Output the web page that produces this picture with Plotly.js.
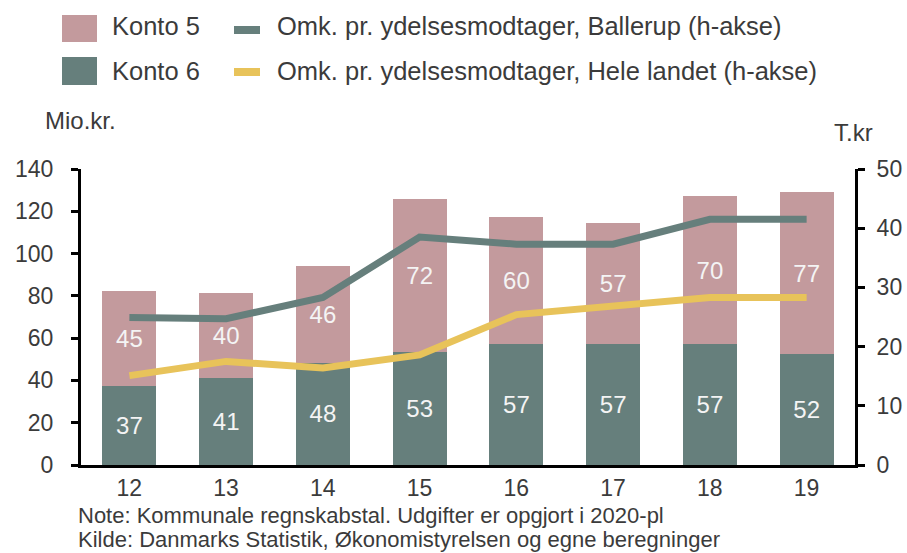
<!DOCTYPE html>
<html>
<head>
<meta charset="utf-8">
<script src="https://cdn.plot.ly/plotly-3.0.1.min.js"></script>
<style>html,body{margin:0;padding:0;background:#fff;}#chart{width:907px;height:553px;}</style>
</head>
<body>
<div id="chart"></div>
<script>
// ---- data ----
var years = ['12','13','14','15','16','17','18','19'];
var konto5 = [44.8, 40.2, 45.9, 72.4, 60.3, 57.0, 70.4, 76.8];
var konto6 = [37.4, 41.2, 48.4, 53.4, 57.0, 57.3, 57.0, 52.4];
var ballerup = [24.9, 24.7, 28.3, 38.5, 37.3, 37.3, 41.5, 41.5];
var heleLandet = [15.1, 17.5, 16.4, 18.6, 25.4, 26.8, 28.3, 28.3];
var seriesNames = ['Konto 5', 'Konto 6',
  'Omk. pr. ydelsesmodtager, Ballerup (h-akse)',
  'Omk. pr. ydelsesmodtager, Hele landet (h-akse)'];
var leftTicks = [0, 20, 40, 60, 80, 100, 120, 140];
var rightTicks = [0, 10, 20, 30, 40, 50];
var noteLines = ['Note: Kommunale regnskabstal. Udgifter er opgjort i 2020-pl',
  'Kilde: Danmarks Statistik, Økonomistyrelsen og egne beregninger'];

var totals = konto5.map(function (v, i) { return v + konto6[i]; });

// ---- style ----
var FONT = 'Liberation Sans, Arial, sans-serif';
var TXT = '#3b3b3b';
var C5 = '#c39a9d', C6 = '#667f7c', CY = '#e8c35a';
var W = 907, H = 553, ML = 81, MR = 52, MT = 169, MB = 88;
var PW = W - ML - MR, PH = H - MT - MB;
function px(x) { return (x - ML) / PW; }
function py(y) { return (H - MB - y) / PH; }

var traces = [
  { type: 'bar', x: years, y: konto6, name: seriesNames[1], marker: { color: C6 },
    texttemplate: '%{y:.0f}', textposition: 'inside', insidetextanchor: 'middle',
    textangle: 0, textfont: { family: FONT, size: 24, color: '#f4f4f4' }, showlegend: false, hoverinfo: 'skip' },
  { type: 'bar', x: years, y: konto5, name: seriesNames[0], marker: { color: C5 },
    texttemplate: '%{y:.0f}', textposition: 'inside', insidetextanchor: 'middle',
    textangle: 0, textfont: { family: FONT, size: 24, color: '#f4f4f4' }, showlegend: false, hoverinfo: 'skip' },
  { type: 'scatter', mode: 'lines', x: years, y: ballerup, yaxis: 'y2', name: seriesNames[2],
    line: { color: C6, width: 7 }, showlegend: false, hoverinfo: 'skip' },
  { type: 'scatter', mode: 'lines', x: years, y: heleLandet, yaxis: 'y2', name: seriesNames[3],
    line: { color: CY, width: 7 }, showlegend: false, hoverinfo: 'skip' }
];

var annotations = years.map(function (yr, i) {
  return { x: yr, y: totals[i], xref: 'x', yref: 'y', text: String(Math.round(totals[i])),
    showarrow: false, yanchor: 'middle', yshift: 23, font: { family: FONT, size: 24, color: TXT } };
});
function note(x, y, text, size) {
  return { xref: 'paper', yref: 'paper', x: px(x), y: py(y), xanchor: 'left', yanchor: 'middle',
    text: text, showarrow: false, font: { family: FONT, size: size, color: TXT } };
}
// legend text
annotations.push(note(110, 26, seriesNames[0], 25.5));
annotations.push(note(110, 71, seriesNames[1], 25.5));
annotations.push(note(275, 26, seriesNames[2], 25.5));
annotations.push(note(275, 71, seriesNames[3], 25.5));
// axis unit labels
annotations.push(note(43, 120, 'Mio.kr.', 24));
annotations.push(note(832, 132, 'T.kr', 24));
// notes
annotations.push(note(76, 515, noteLines[0], 22));
annotations.push(note(76, 539, noteLines[1], 22));

var shapes = [
  { type: 'rect', xref: 'paper', yref: 'paper', x0: px(62), x1: px(97), y0: py(42), y1: py(15), fillcolor: C5, line: { width: 0 } },
  { type: 'rect', xref: 'paper', yref: 'paper', x0: px(62), x1: px(97), y0: py(85), y1: py(57), fillcolor: C6, line: { width: 0 } },
  { type: 'line', xref: 'paper', yref: 'paper', x0: px(234), x1: px(260), y0: py(30), y1: py(30), line: { color: C6, width: 8 } },
  { type: 'line', xref: 'paper', yref: 'paper', x0: px(234), x1: px(260), y0: py(72), y1: py(72), line: { color: CY, width: 8 } }
];

var layout = {
  width: W, height: H,
  margin: { l: ML, r: MR, t: MT, b: MB, pad: 0 },
  paper_bgcolor: '#fff', plot_bgcolor: '#fff',
  barmode: 'stack', bargap: 0.44,
  showlegend: false,
  font: { family: FONT, size: 23, color: TXT },
  xaxis: { type: 'category', range: [-0.5, 7.5], showline: true, linecolor: '#000', linewidth: 3,
    ticks: '', showgrid: false, zeroline: false, tickfont: { family: FONT, size: 23, color: TXT },
    ticklabelstandoff: 0, fixedrange: true },
  yaxis: { range: [0, 140], tickvals: leftTicks, showline: true, linecolor: '#000', linewidth: 3,
    ticks: 'outside', ticklen: 7, tickwidth: 3, tickcolor: '#000', showgrid: false, zeroline: false,
    tickfont: { family: FONT, size: 23, color: TXT }, ticklabelstandoff: 13, fixedrange: true },
  yaxis2: { range: [0, 50], tickvals: rightTicks, overlaying: 'y', side: 'right', showline: true,
    linecolor: '#000', linewidth: 3, ticks: 'outside', ticklen: 7, tickwidth: 3, tickcolor: '#000',
    showgrid: false, zeroline: false, tickfont: { family: FONT, size: 23, color: TXT },
    ticklabelstandoff: 7, fixedrange: true },
  annotations: annotations,
  shapes: shapes
};

Plotly.newPlot('chart', traces, layout, { displayModeBar: false, staticPlot: true });
</script>
</body>
</html>
